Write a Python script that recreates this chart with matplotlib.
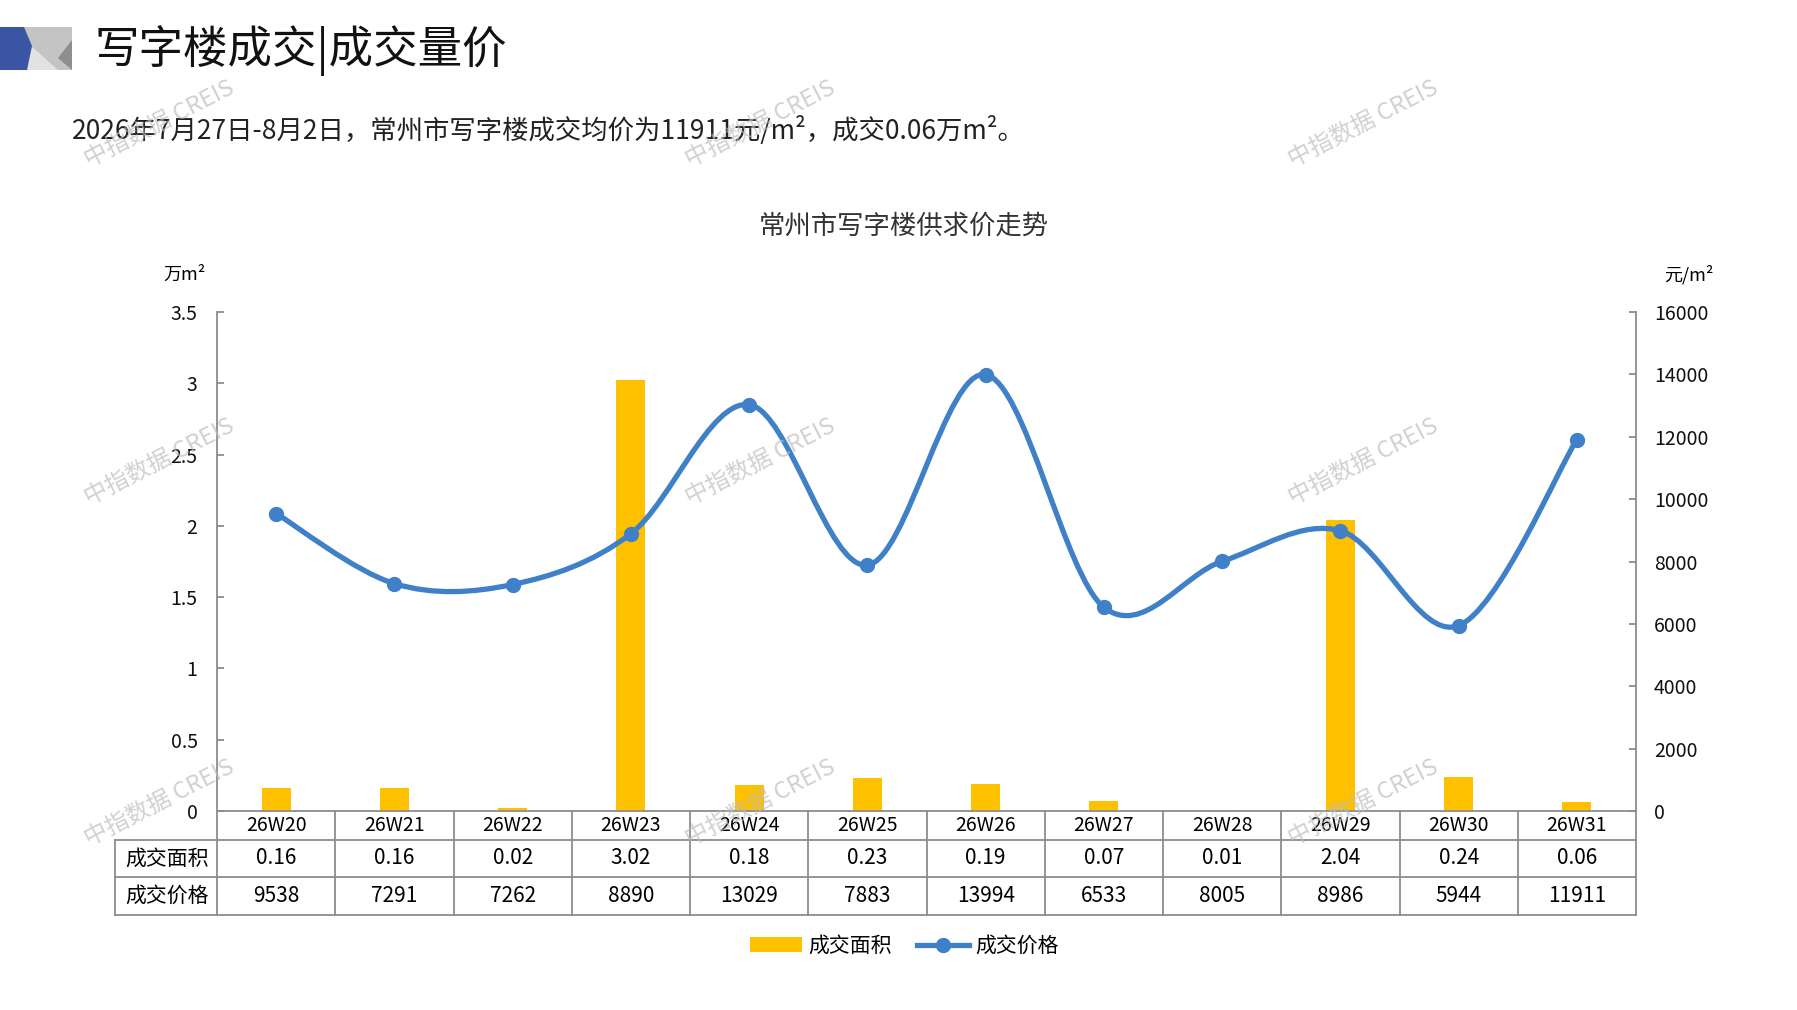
import numpy as np
import matplotlib
matplotlib.use("Agg")
import matplotlib.pyplot as plt
from matplotlib.path import Path
from matplotlib.patches import PathPatch, Polygon, Patch
from matplotlib.lines import Line2D
import matplotlib.transforms as mtransforms

plt.rcParams['font.family'] = ['Noto Sans CJK SC', 'DejaVu Sans']

# data
weeks = ['26W20', '26W21', '26W22', '26W23', '26W24', '26W25',
         '26W26', '26W27', '26W28', '26W29', '26W30', '26W31']
area = [0.16, 0.16, 0.02, 3.02, 0.18, 0.23, 0.19, 0.07, 0.01, 2.04, 0.24, 0.06]
price = [9538, 7291, 7262, 8890, 13029, 7883, 13994, 6533, 8005, 8986, 5944, 11911]
area_labels = ['0.16', '0.16', '0.02', '3.02', '0.18', '0.23',
               '0.19', '0.07', '0.01', '2.04', '0.24', '0.06']

W, H = 1797, 1010
GOLD = '#FFC000'
BLUE = '#3F80C8'
GRID = '#8C8C8C'


def fx(px):
    return px / W


def fy(py):
    return 1 - py / H


def smooth_path(xs, ys):
    # bezier curve like excel's smoothed line
    pts = np.column_stack([xs, ys]).astype(float)
    n = len(pts)
    verts = [pts[0]]
    codes = [Path.MOVETO]
    for i in range(n - 1):
        p0 = pts[i - 1] if i > 0 else pts[i]
        p1 = pts[i]
        p2 = pts[i + 1]
        p3 = pts[i + 2] if i + 2 < n else pts[i + 1]
        c1 = p1 + (p2 - p0) / 6.0
        c2 = p2 - (p3 - p1) / 6.0
        verts += [c1, c2, p2]
        codes += [Path.CURVE4] * 3
    return Path(verts, codes)


fig = plt.figure(figsize=(W / 100, H / 100), dpi=100)

# header decoration
deco = [
    ([(23, 27), (72, 27), (72, 70), (23, 70)], '#C4C4C4'),
    ([(30, 45), (27, 70), (58, 70)], '#E2E2E2'),
    ([(72, 40), (72, 70), (58, 58)], '#8E8E8E'),
    ([(0, 27), (24, 27), (32, 46), (27, 70), (0, 70)], '#3A55A4'),
]
for pts, col in deco:
    fig.add_artist(Polygon([(fx(a), fy(b)) for a, b in pts], closed=True,
                           facecolor=col, edgecolor='none',
                           transform=fig.transFigure))

fig.text(fx(94), fy(51), '写字楼成交|成交量价', fontsize=32, va='center',
         ha='left', color='#111111', fontweight='light')
fig.text(fx(72), fy(130),
         '2026年7月27日-8月2日，常州市写字楼成交均价为11911元/m²，成交0.06万m²。',
         fontsize=19, va='center', ha='left', color='#222222',
         fontweight='light')
fig.text(fx(904), fy(226), '常州市写字楼供求价走势', fontsize=19,
         va='center', ha='center', color='#333333', fontweight='light')

# axes
ax = fig.add_axes([fx(217), fy(811), fx(1636) - fx(217), fy(312) - fy(811)])
x = np.arange(len(weeks))
ax.bar(x, area, width=0.245, color=GOLD, zorder=2)
ax.set_xlim(-0.5, len(weeks) - 0.5)
ax.set_ylim(0, 3.5)
ax.set_yticks(np.arange(0, 3.51, 0.5))
ax.set_yticklabels(['0', '0.5', '1', '1.5', '2', '2.5', '3', '3.5'])
ax.set_xticks([])
for s in ['top', 'right']:
    ax.spines[s].set_visible(False)
ax.spines['left'].set_color(GRID)
ax.spines['left'].set_linewidth(1.3)
ax.spines['bottom'].set_color(GRID)
ax.spines['bottom'].set_linewidth(1.3)
ax.tick_params(axis='y', direction='in', length=5, width=1.3, color=GRID,
               pad=14, labelsize=14, labelcolor='#111111')

ax2 = ax.twinx()
ax2.set_ylim(0, 16000)
ax2.set_yticks(np.arange(0, 16001, 2000))
for s in ['top', 'left', 'bottom']:
    ax2.spines[s].set_visible(False)
ax2.spines['right'].set_color(GRID)
ax2.spines['right'].set_linewidth(1.3)
ax2.tick_params(axis='y', direction='in', length=5, width=1.3, color=GRID,
                pad=13, labelsize=14, labelcolor='#111111')
ax2.add_patch(PathPatch(smooth_path(x, price), facecolor='none',
                        edgecolor=BLUE, lw=3.8, capstyle='round', zorder=3))
ax2.plot(x, price, 'o', color=BLUE, ms=10, zorder=4)

fig.text(fx(185), fy(275), '万m²', fontsize=13, ha='center', va='center')
fig.text(fx(1689), fy(275), '元/m²', fontsize=13, ha='center', va='center')

# data table under the chart
tr = mtransforms.blended_transform_factory(ax.transData, fig.transFigure)
row_y = [811, 840, 877, 915]
lkw = dict(color=GRID, lw=1.3)
for i in range(len(weeks) + 1):
    fig.add_artist(Line2D([i - 0.5, i - 0.5], [fy(row_y[0]), fy(row_y[3])],
                          transform=tr, **lkw))
for yy in row_y[1:]:
    fig.add_artist(Line2D([fx(115), fx(1636)], [fy(yy), fy(yy)],
                          transform=fig.transFigure, **lkw))
fig.add_artist(Line2D([fx(115), fx(115)], [fy(row_y[1]), fy(row_y[3])],
                      transform=fig.transFigure, **lkw))
fig.text(fx(167), fy(858.5), '成交面积', fontsize=15, ha='center', va='center')
fig.text(fx(167), fy(896), '成交价格', fontsize=15, ha='center', va='center')
for i in range(len(weeks)):
    fig.text(i, fy(825.5), weeks[i], transform=tr, fontsize=14,
             ha='center', va='center')
    fig.text(i, fy(858.5), area_labels[i], transform=tr, fontsize=15,
             ha='center', va='center')
    fig.text(i, fy(896), str(price[i]), transform=tr, fontsize=15,
             ha='center', va='center')

# legend
handles = [Patch(facecolor=GOLD, edgecolor='none'),
           Line2D([], [], color=BLUE, lw=3.8, marker='o', ms=10)]
fig.legend(handles, ['成交面积', '成交价格'], loc='center',
           bbox_to_anchor=(fx(904), fy(946)), ncol=2, frameon=False,
           fontsize=15, handlelength=2.5, handletextpad=0.3,
           columnspacing=1.2)

# watermarks
for wx in [159, 760, 1363]:
    for wy in [124, 462, 803]:
        fig.text(fx(wx), fy(wy), '中指数据 CREIS', fontsize=17, rotation=27,
                 color='#BDBDBD', alpha=0.7, ha='center', va='center',
                 zorder=10)

fig.savefig('out.png', dpi=100)
